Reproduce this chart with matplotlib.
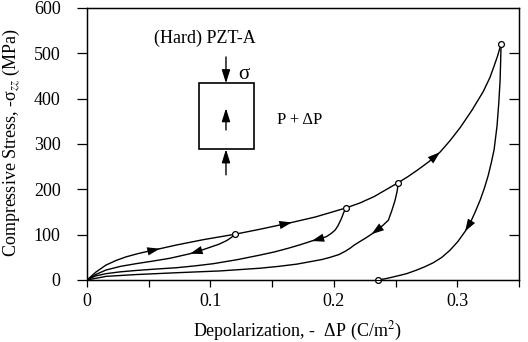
import matplotlib
matplotlib.use("Agg")
import matplotlib.pyplot as plt
from matplotlib.patches import Rectangle

# loading branch (depolarization C/m^2, stress MPa)
LOAD_X = [0, 0.007, 0.0154, 0.0235, 0.0316, 0.041, 0.0505, 0.059, 0.0721, 0.0943,
          0.120, 0.1402, 0.166, 0.185, 0.2099, 0.2212, 0.2326, 0.2523, 0.26, 0.268,
          0.277, 0.286, 0.294, 0.3023, 0.312, 0.3211, 0.3265, 0.3293, 0.3325, 0.3355]
LOAD_Y = [0, 17, 33, 43, 51, 58, 64, 69, 77, 89,
          101, 112, 127, 139, 159, 170, 184, 215, 228, 243,
          261, 282, 307, 336, 375, 416, 447, 468, 493, 521]

# unloading branches, each starting at its turning point
UNLOAD1_X = [0.120, 0.117, 0.1132, 0.107, 0.0995, 0.092, 0.0835, 0.0673, 0.054, 0.0397,
             0.027, 0.0154, 0.007, 0]
UNLOAD1_Y = [101, 94, 87, 79, 72, 65, 58, 48, 42, 36,
             30, 22, 12, 0]

UNLOAD2_X = [0.2099, 0.2087, 0.2077, 0.2065, 0.205, 0.2032, 0.201, 0.1975, 0.1942, 0.19,
             0.182, 0.173, 0.163, 0.152, 0.1402, 0.122, 0.1024, 0.087, 0.0721, 0.055,
             0.0397, 0.027, 0.0154, 0.007, 0]
UNLOAD2_Y = [159, 153, 147, 138, 129, 119, 110, 102, 96, 92,
             86, 78, 70, 62, 55, 45, 36, 31, 27, 24,
             21, 18, 14, 9, 0]

UNLOAD3_X = [0.2523, 0.2512, 0.2496, 0.2472, 0.2442, 0.2395, 0.235, 0.2305, 0.226, 0.2212,
             0.2165, 0.2131, 0.209, 0.204, 0.197, 0.19, 0.18, 0.17, 0.155, 0.1402,
             0.1078, 0.0721, 0.0397, 0.0154, 0]
UNLOAD3_Y = [215, 195, 176, 155, 132, 120, 110, 101, 93, 85,
             77, 70, 63, 56, 50, 45, 40, 35, 30, 26,
             20, 16, 12, 8, 0]

UNLOAD4_X = [0.3355, 0.3352, 0.3347, 0.3336, 0.3322, 0.3298, 0.3275, 0.325, 0.322, 0.3185,
             0.3145, 0.3105, 0.3063, 0.3005, 0.2942, 0.2875, 0.2805, 0.2735, 0.2672, 0.259,
             0.25, 0.243, 0.236]
UNLOAD4_Y = [521, 490, 441, 390, 340, 287, 258, 230, 203, 176,
             150, 126, 107, 85, 66, 50, 38, 29, 22, 14,
             8, 3.5, 0]

# index of the arrow tip on each branch
LOAD_ARROWS = [7, 12, 21]
UNLOAD_ARROWS = [6, 10, 7, 12]

X_TICKS = [0, 0.1, 0.2, 0.3]
X_TICK_LABELS = ['0', '0.1', '0.2', '0.3']
X_MINOR = [0.05, 0.15, 0.25, 0.35]
Y_TICKS = [0, 100, 200, 300, 400, 500, 600]

plt.rcParams['font.family'] = ['Liberation Serif', 'DejaVu Serif']
plt.rcParams['mathtext.fontset'] = 'stix'

fig = plt.figure(figsize=(5.28, 3.42), dpi=100)
ax = fig.add_axes([87 / 528, 62 / 342, 432 / 528, 272 / 342])

LW = 1.0


def arrow_on(ax, xs, ys, i):
    ax.annotate('', xy=(xs[i], ys[i]), xytext=(xs[i - 1], ys[i - 1]),
                arrowprops=dict(arrowstyle='-|>,head_length=0.9,head_width=0.3',
                                color='black', lw=0, shrinkA=0, shrinkB=0))


ax.plot(LOAD_X, LOAD_Y, color='black', lw=LW)
for i in LOAD_ARROWS:
    arrow_on(ax, LOAD_X, LOAD_Y, i)

branches = [(UNLOAD1_X, UNLOAD1_Y), (UNLOAD2_X, UNLOAD2_Y),
            (UNLOAD3_X, UNLOAD3_Y), (UNLOAD4_X, UNLOAD4_Y)]
for (xs, ys), i in zip(branches, UNLOAD_ARROWS):
    ax.plot(xs, ys, color='black', lw=LW)
    arrow_on(ax, xs, ys, i)

# turning points
cx = [b[0][0] for b in branches] + [UNLOAD4_X[-1]]
cy = [b[1][0] for b in branches] + [UNLOAD4_Y[-1]]
ax.plot(cx, cy, 'o', ms=4.2, mfc='white', mec='black', mew=0.9, zorder=5, clip_on=False)

ax.set_xlim(0, 0.35)
ax.set_ylim(0, 600)
ax.set_xticks(X_TICKS)
ax.set_xticklabels(X_TICK_LABELS)
ax.set_xticks(X_MINOR, minor=True)
ax.set_yticks(Y_TICKS)
ax.tick_params(axis='x', which='both', direction='out', length=5, width=0.9,
               labelsize=13, pad=4, top=False)
ax.tick_params(axis='y', which='major', direction='out', length=7, width=0.9,
               labelsize=13, pad=12)
for s in ax.spines.values():
    s.set_linewidth(1.0)

# inward ticks on the right spine
ax2 = ax.twinx()
ax2.set_ylim(0, 600)
ax2.set_yticks(Y_TICKS[1:-1])
ax2.tick_params(axis='y', direction='in', length=7, width=0.9, labelright=False)

ax.set_xlabel(r'Depolarization, -  ΔP (C/m$^2$)', fontsize=13)
ax.xaxis.set_label_coords(0.488, -0.145)
ax.set_ylabel(r'Compressive Stress, -σ$_{zz}$ (MPa)', fontsize=13)
ax.yaxis.set_label_coords(-0.15, 0.505)

# specimen sketch
ax.text(0.0956, 533, '(Hard) PZT-A', ha='center', va='center', fontsize=13)
ax.add_patch(Rectangle((0.0908, 288.3), 0.0448, 145.7, fill=False, lw=1.2, ec='black'))
head = dict(arrowstyle='-|>,head_length=0.8,head_width=0.25', color='black',
            lw=1.0, shrinkA=0, shrinkB=0)
ax.annotate('', xy=(0.1126, 434), xytext=(0.1126, 492), arrowprops=head)
ax.annotate('', xy=(0.1126, 379), xytext=(0.1126, 331), arrowprops=head)
ax.annotate('', xy=(0.1126, 288.3), xytext=(0.1126, 232), arrowprops=head)
ax.text(0.1275, 454, 'σ', ha='center', va='center', fontsize=15)
ax.text(0.154, 353, 'P + ΔP', ha='left', va='center', fontsize=12)

fig.savefig('out.png', dpi=100)
